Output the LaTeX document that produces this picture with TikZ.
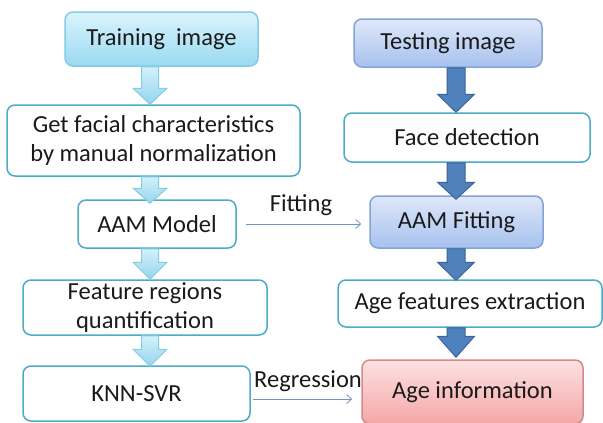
\documentclass[tikz,border=0pt]{standalone}
\usepackage{fontspec}
\setmainfont{Carlito}
\usetikzlibrary{arrows.meta,calc}

\definecolor{aqua}{HTML}{4BACC6}
\definecolor{txt}{HTML}{1A1A1A}
\definecolor{darkarrow}{HTML}{4F81BD}
\definecolor{darkarrowline}{HTML}{3A639A}
\definecolor{thinline}{HTML}{6F94C8}
\definecolor{cyantop}{HTML}{DCF4FC}
\definecolor{cyanbot}{HTML}{98DAF2}
\definecolor{cyanline}{HTML}{86CBE4}
\definecolor{bluetop}{HTML}{DFE8F9}
\definecolor{bluebot}{HTML}{A6C1EE}
\definecolor{blueline}{HTML}{86A3D6}
\definecolor{pinktop}{HTML}{FDE2E2}
\definecolor{pinkbot}{HTML}{F4A6A6}
\definecolor{pinkline}{HTML}{D68888}
\definecolor{arrtop}{HTML}{D4F1FA}
\definecolor{arrbot}{HTML}{92D5EE}

\tikzset{
  base/.style={rounded corners=8pt, line width=1.5pt, align=center,
    inner sep=0pt, text=txt, font=\fontsize{24.5}{29}\selectfont},
  plainbox/.style={base, draw=aqua, fill=white},
  cyanbox/.style={base, draw=cyanline, top color=cyantop, bottom color=cyanbot},
  bluebox/.style={base, draw=blueline, top color=bluetop, bottom color=bluebot},
  pinkbox/.style={base, draw=pinkline, top color=pinktop, bottom color=pinkbot},
  lightarrow/.style={draw=cyanline, line width=1pt, top color=arrtop, bottom color=arrbot},
  heavyarrow/.style={draw=darkarrowline, line width=1pt, fill=darkarrow},
  thin/.style={draw=thinline, line width=0.8pt, -{Straight Barb[length=5pt,width=9pt]}},
  lbl/.style={text=txt, font=\fontsize{24.5}{29}\selectfont, inner sep=0pt},
}

% block arrow from #3.south to #4.north at column x=#2:
% #5 head length, #6 overlap of the tip into the lower box,
% #7 shaft half width, #8 head half width
\newcommand\blockarr[8]{%
  \path let \p1=(#3.south), \p2=(#4.north) in
    [#1] (#2pt-#7pt,\y1) -- (#2pt-#7pt,{\y2-#6pt+#5pt}) -- (#2pt-#8pt,{\y2-#6pt+#5pt})
      -- (#2pt,{\y2-#6pt}) -- (#2pt+#8pt,{\y2-#6pt+#5pt}) -- (#2pt+#7pt,{\y2-#6pt+#5pt})
      -- (#2pt+#7pt,\y1) -- cycle;}

\begin{document}
\begin{tikzpicture}[x=1pt,y=-1pt]
\useasboundingbox (0,0) rectangle (603,423);

% training column
\node[cyanbox,  minimum width=193pt, minimum height=54pt] (train) at (161.5,39) {Training\ \ image};
\node[plainbox, minimum width=293pt, minimum height=71pt] (get)   at (153.5,140.5) {Get facial characteristics\\by manual normalization};
\node[plainbox, minimum width=158pt, minimum height=48pt] (aam)   at (157,224) {AAM Model};
\node[plainbox, minimum width=244pt, minimum height=55pt] (feat)  at (145,307.5) {Feature regions\\quantification};
\node[plainbox, minimum width=227pt, minimum height=55pt] (knn)   at (136.5,393.5) {KNN-SVR};

% testing column
\node[bluebox,  minimum width=188pt, minimum height=48pt] (test)    at (448,43) {Testing image};
\node[plainbox, minimum width=246pt, minimum height=49pt] (face)    at (467,137.5) {Face detection};
\node[bluebox,  minimum width=173pt, minimum height=52pt] (aamfit)  at (456.5,222) {AAM Fitting};
\node[plainbox, minimum width=264pt, minimum height=47pt] (agefeat) at (470,303.5) {Age features extraction};
\node[pinkbox,  minimum width=221pt, minimum height=64pt] (ageinfo) at (472.5,392) {Age information};

% block arrows, training column
\blockarr{lightarrow}{150}{train}{get}{16}{0}{8.5}{17}
\blockarr{lightarrow}{150}{get}{aam}{15}{4}{8.5}{17}
\blockarr{lightarrow}{150}{aam}{feat}{17}{0}{8.5}{17}
\blockarr{lightarrow}{150}{feat}{knn}{17}{1}{8.5}{17}

% block arrows, testing column
\blockarr{heavyarrow}{456}{test}{face}{18}{0}{9}{18.5}
\blockarr{heavyarrow}{456}{face}{aamfit}{17}{4}{9}{18.5}
\blockarr{heavyarrow}{456}{aamfit}{agefeat}{18}{1}{9}{18.5}
\blockarr{heavyarrow}{456}{agefeat}{ageinfo}{21}{-2}{9}{18.5}

% links between the columns
\draw[thin, shorten <=9pt, shorten >=8pt] (aam.east) -- (aam.east -| aamfit.west);
\node[lbl] (fitlbl) at (301,205) {Fitting};
\draw[thin, shorten <=2pt, shorten >=9pt] (knn.east |- 0,399) coordinate (rs) -- (rs -| ageinfo.west);
\node[lbl] (reglbl) at (308,381) {Regression};
\end{tikzpicture}
\end{document}
